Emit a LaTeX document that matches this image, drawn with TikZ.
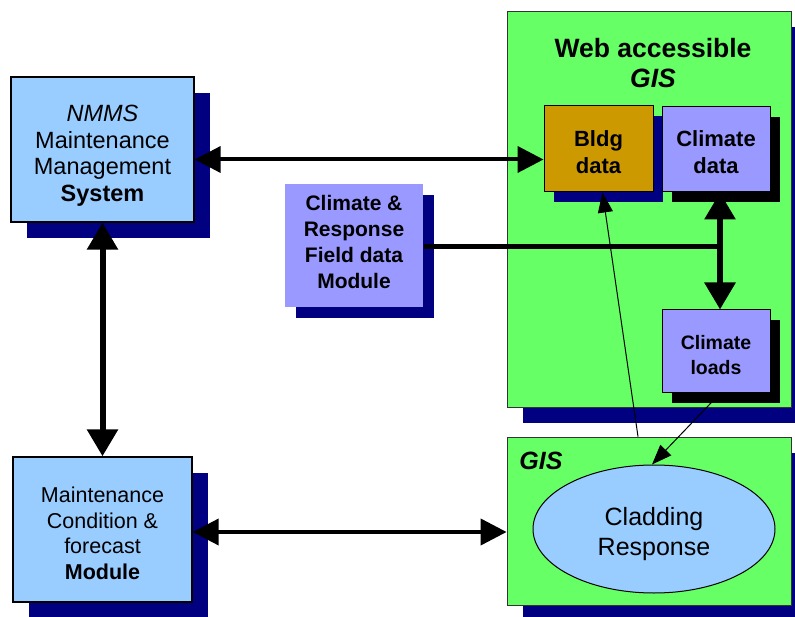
\documentclass[tikz,border=0pt]{standalone}
\usepackage{fontspec}
\setmainfont{Liberation Sans}
\usetikzlibrary{shapes.geometric, arrows.meta, positioning, shadows}

\definecolor{paleblue}{HTML}{99CCFF}
\definecolor{lilac}{HTML}{9999FF}
\definecolor{webgreen}{HTML}{66FF66}
\definecolor{bldggold}{HTML}{CC9900}
\definecolor{navyshade}{HTML}{000080}

\begin{document}
\begin{tikzpicture}[x=1pt, y=-1pt,
    navyshadow/.style={drop shadow={shadow xshift=#1, shadow yshift=-#1, fill=navyshade, opacity=1}},
    blackshadow/.style={drop shadow={shadow xshift=#1, shadow yshift=-#1, fill=black, opacity=1}},
    box/.style={rectangle, draw=black, line width=1.4pt, fill=paleblue, inner sep=0pt, align=center},
    area/.style={rectangle, draw=black!80, line width=0.8pt, fill=webgreen, inner sep=0pt, navyshadow=16pt},
    databox/.style={rectangle, draw=black, line width=1pt, fill=lilac, inner sep=0pt, align=center,
        font=\bfseries\fontsize{22}{27}\selectfont},
    bigarrow/.style={{Triangle[length=26pt,width=26pt]}-{Triangle[length=26pt,width=26pt]}, line width=4pt},
    tallarrow/.style={{Triangle[length=27pt,width=30pt]}-{Triangle[length=27pt,width=30pt]}, line width=6pt},
    thinarrow/.style={-{Triangle[length=20pt,width=15pt]}, line width=1pt}
]
    \path[use as bounding box, clip] (0,0) rectangle (795,617);

    % Maintenance side
    \node[box, navyshadow=16pt, minimum width=183pt, minimum height=145pt, text height=109pt,
        font=\fontsize{23.5}{26.7}\selectfont]
        (nmms) at (102.5,149.5) {\textit{NMMS}\\Maintenance\\Management\\\textbf{System}};
    \node[box, navyshadow=16pt, minimum width=179pt, minimum height=145pt, text height=100pt,
        font=\fontsize{21.5}{25.6}\selectfont]
        (mcf) at (102.5,529.5) {Maintenance\\Condition \&\\forecast\\\textbf{Module}};

    % Field data
    \node[box, draw=none, fill=lilac, navyshadow=11pt, minimum width=138pt, minimum height=123pt,
        text height=86pt, font=\bfseries\fontsize{21}{26}\selectfont]
        (crf) at (354,245.5) {Climate \&\\Response\\Field data\\Module};

    % Web accessible GIS
    \node[area, minimum width=284pt, minimum height=396pt] (web) at (649,209) {};
    \node[align=center, font=\bfseries\fontsize{26.5}{30}\selectfont]
        (webtitle) at (653,63) {Web accessible\\\textit{GIS}};
    \node[databox, fill=bldggold, navyshadow=10pt, minimum width=109pt, minimum height=86pt,
        text height=50pt] (bldg) at (598.5,149) {Bldg\\data};
    \node[databox, blackshadow=10pt, minimum width=108pt, minimum height=85pt,
        text height=48pt] (cdata) at (716,149.5) {Climate\\data};
    \node[databox, blackshadow=10pt, minimum width=108pt, minimum height=83pt, text height=46pt,
        font=\bfseries\fontsize{19.5}{25}\selectfont] (cloads) at (716,351.5) {Climate\\loads};

    % GIS with cladding model
    \node[area, minimum width=284pt, minimum height=168pt] (gis) at (649,521) {};
    \node[font=\bfseries\itshape\fontsize{25}{30}\selectfont] (gistitle) at (541,461) {GIS};
    \node[ellipse, draw=black, line width=1pt, fill=paleblue, minimum width=242pt, minimum height=128pt,
        inner sep=0pt, align=center, text height=58pt, font=\fontsize{25}{30}\selectfont]
        (clad) at (654,529) {Cladding\\Response};

    % Links
    \draw[bigarrow] ([yshift=-10pt]nmms.east) -- ([yshift=-10pt]nmms.east -| bldg.west);
    \draw[tallarrow] (nmms.south) -- (mcf.north);
    \draw[bigarrow] ([yshift=-2.5pt]mcf.east) -- ([yshift=-2.5pt]mcf.east -| gis.west);
    \coordinate (junction) at ([xshift=4pt]cdata.south |- crf.east);
    \draw[line width=5pt] ([yshift=-1.5pt]crf.east) -- ([yshift=-1.5pt]junction);
    \draw[tallarrow] ([xshift=4pt]cdata.south) -- ([xshift=4pt]cloads.north);
    \draw[thinarrow] ([xshift=4pt]cloads.south) -- ([xshift=-2pt]clad.north);
    \draw[thinarrow, {Triangle[length=20pt,width=15pt]}-] ([xshift=4pt]bldg.south) -- ([xshift=-11pt]gis.north);
\end{tikzpicture}
\end{document}
